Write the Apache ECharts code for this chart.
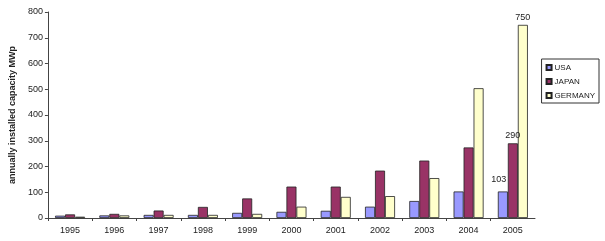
<!DOCTYPE html>
<html><head><meta charset="utf-8">
<script src="https://cdn.jsdelivr.net/npm/echarts@6/dist/echarts.min.js"></script>
<style>html,body{margin:0;padding:0;background:#fff}#c{width:605px;height:241px}</style>
</head><body><div id="c"></div>
<script>
const years = ['1995','1996','1997','1998','1999','2000','2001','2002','2003','2004','2005'];
const usa = [9, 10, 12, 12, 20, 24, 28, 44, 66, 103, 103];
const japan = [14, 16, 29, 43, 76, 122, 122, 184, 223, 274, 290];
const germany = [5, 10, 12, 12, 16, 44, 82, 85, 155, 504, 750];
const yTicks = [0, 100, 200, 300, 400, 500, 600, 700, 800];
const labelled = '2005';

const chart = echarts.init(document.getElementById('c'), null, {renderer: 'canvas'});
const font = 'Liberation Sans, Arial, sans-serif';
function mkSeries(name, data, color, labelOffset) {
  return {
    name, type: 'bar', data, barWidth: 10, barGap: '0%',
    itemStyle: {color, borderColor: '#222', borderWidth: 0.8},
    label: {
      show: true, position: 'top', distance: 3, offset: labelOffset, fontSize: 9, fontFamily: font, color: '#222',
      formatter: p => (p.name === labelled ? String(p.value) : '')
    }
  };
}
chart.setOption({
  animation: false,
  grid: {left: 42, right: 70, top: 12, bottom: 23},
  legend: {
    orient: 'vertical', right: 6, top: 59, itemWidth: 5, itemHeight: 5, itemGap: 5,
    borderColor: '#333', borderWidth: 1, padding: [4, 4, 3, 4],
    textStyle: {fontSize: 8, lineHeight: 9, fontFamily: font, color: '#222', padding: [0, 0, 0, -2]},
    data: ['USA', 'JAPAN', 'GERMANY'], icon: 'rect'
  },
  xAxis: {
    type: 'category', data: years,
    axisLine: {lineStyle: {color: '#444'}},
    axisTick: {show: true, length: 3, lineStyle: {color: '#444'}},
    axisLabel: {fontSize: 9, fontFamily: font, color: '#222', margin: 8}
  },
  yAxis: {
    type: 'value', min: 0, max: 800, interval: 100,
    name: 'annually installed capacity MWp', nameLocation: 'middle', nameGap: 26,
    nameTextStyle: {fontSize: 9, fontWeight: 'bold', fontFamily: font, color: '#222'},
    axisLine: {show: true, lineStyle: {color: '#444'}},
    axisTick: {show: true, length: 3, lineStyle: {color: '#444'}},
    splitLine: {show: false},
    axisLabel: {fontSize: 9, fontFamily: font, color: '#222', margin: 5,
      formatter: v => (yTicks.includes(v) ? String(v) : '')}
  },
  series: [
    mkSeries('USA', usa, '#9999ff', [-4, -4]),
    mkSeries('JAPAN', japan, '#993366', [0, 0]),
    mkSeries('GERMANY', germany, '#ffffcc', [0, 0])
  ]
});
</script></body></html>
